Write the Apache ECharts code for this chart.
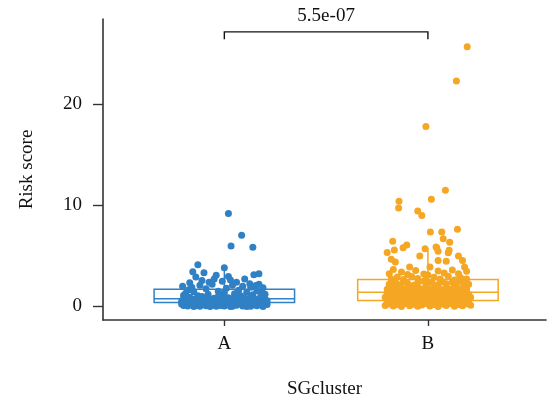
<!DOCTYPE html>
<html>
<head>
<meta charset="utf-8">
<style>html,body{margin:0;padding:0;background:#fff}#c{width:548px;height:402px}</style>
<script src="https://cdn.jsdelivr.net/npm/echarts@6/dist/echarts.min.js"></script>
</head>
<body>
<div id="c"></div>
<script>
// ---- data ----
const categories = ['A', 'B'];
const yTicks = [0, 10, 20];
const xTicks = [1, 2];
// [lower whisker, Q1, median, Q3, upper whisker]
const boxA = [0, 0.38, 0.76, 1.71, 3.6];
const boxB = [0, 0.59, 1.39, 2.67, 5.74];
const pValueText = '5.5e-07';
const bracketLow = 26.4;
const bracketHigh = 27.13;
// jittered points: [jitter offset from category centre, risk score]
const pointsA = [
  [0.02,9.18],[0.085,7.03],[0.033,5.97],[0.14,5.85],[-0.13,4.13],[0.0,3.83],[-0.155,3.43],[-0.1,3.34],[0.17,3.24],[0.145,3.14],
  [-0.14,2.9],[-0.11,2.57],[-0.04,3.07],[0.02,2.97],[-0.075,2.4],[0.06,2.4],[0.125,2.25],[0.155,2.08],[0.19,1.85],[-0.175,1.65],[-0.205,2.0],
  [-0.19,1.3],[-0.16,1.9],[-0.12,2.1],[-0.09,1.75],[-0.06,2.2],[-0.03,1.5],[-0.01,2.5],[0.01,1.8],[0.04,2.1],[0.07,1.6],
  [0.09,2.0],[0.11,1.4],[0.13,1.9],[0.16,1.55],[0.18,1.3],[0.2,1.2],[-0.2,1.1],[-0.15,1.45],[-0.08,1.2],[-0.05,2.7],
  [0.03,2.6],[0.05,1.25],[0.1,2.7],[-0.02,1.1],[0.14,1.15],[-0.13,1.05],[0.08,1.05],[-0.17,2.35],[0.17,2.2],[0.0,1.35],
  [-0.21,0.5],[-0.2,0.1],[-0.2,0.8],[-0.19,0.3],[-0.18,0.6],[-0.18,0.05],[-0.17,0.9],[-0.16,0.2],[-0.16,0.45],[-0.15,0.7],
  [-0.14,0.1],[-0.14,0.35],[-0.13,0.85],[-0.12,0.02],[-0.12,0.55],[-0.11,0.25],[-0.1,0.75],[-0.1,0.4],[-0.09,0.08],[-0.08,0.95],
  [-0.08,0.3],[-0.07,0.6],[-0.06,0.15],[-0.06,0.45],[-0.05,0.8],[-0.04,0.03],[-0.04,0.5],[-0.03,0.28],[-0.02,0.7],[-0.02,0.1],
  [-0.01,0.9],[0,0.4],[0,0.05],[0.01,0.65],[0.02,0.2],[0.02,0.85],[0.03,0.35],[0.04,0.55],[0.04,0.02],[0.05,0.75],
  [0.06,0.12],[0.06,0.42],[0.07,0.9],[0.08,0.3],[0.08,0.62],[0.09,0.05],[0.1,0.5],[0.1,0.8],[0.11,0.18],[0.12,0.68],
  [0.12,0.38],[0.13,0.02],[0.14,0.88],[0.14,0.48],[0.15,0.22],[0.16,0.6],[0.16,0.08],[0.17,0.78],[0.18,0.35],[0.18,0.55],
  [0.19,0.12],[0.2,0.7],[0.2,0.4],[0.21,0.2],[-0.19,0.95],[-0.11,0.98],[-0.03,0.97],[0.05,0.99],[0.13,0.97],[-0.15,0.0],
  [-0.07,0.0],[0.03,0.0],[0.11,0.0],[0.19,0.0],[-0.21,0.25],[0.21,0.55]
];
const pointsB = [
  [-0.21,0.1],[-0.19,0.25],[-0.17,0.05],[-0.15,0.2],[-0.13,0.0],[-0.11,0.3],[-0.09,0.08],[-0.07,0.22],[-0.05,0.02],[-0.03,0.15],
  [-0.01,0.28],[0.01,0.05],[0.03,0.2],[0.05,0.0],[0.07,0.25],[0.09,0.1],[0.11,0.3],[0.13,0.03],[0.15,0.18],[0.17,0.07],[0.19,0.27],[0.21,0.12],
  [-0.2,0.5],[-0.18,0.65],[-0.16,0.42],[-0.14,0.7],[-0.12,0.48],[-0.1,0.6],[-0.08,0.4],[-0.06,0.68],[-0.04,0.52],[-0.02,0.44],
  [0,0.62],[0.02,0.47],[0.04,0.7],[0.06,0.5],[0.08,0.41],[0.1,0.66],[0.12,0.55],[0.14,0.43],[0.16,0.69],[0.18,0.52],[0.2,0.6],
  [-0.21,0.9],[-0.19,1.05],[-0.17,0.82],[-0.15,1.0],[-0.13,0.88],[-0.11,1.1],[-0.09,0.85],[-0.07,0.98],[-0.05,1.08],[-0.03,0.8],
  [-0.01,0.95],[0.01,1.1],[0.03,0.87],[0.05,1.02],[0.07,0.83],[0.09,0.97],[0.11,1.07],[0.13,0.9],[0.15,1.0],[0.17,0.81],[0.19,1.06],[0.21,0.92],
  [-0.2,1.3],[-0.18,1.45],[-0.16,1.22],[-0.14,1.38],[-0.12,1.5],[-0.1,1.25],[-0.08,1.42],[-0.06,1.3],[-0.04,1.2],[-0.02,1.48],
  [0,1.35],[0.02,1.24],[0.04,1.44],[0.06,1.3],[0.08,1.5],[0.1,1.22],[0.12,1.4],[0.14,1.28],[0.16,1.46],[0.18,1.33],[0.2,1.2],
  [-0.2,1.7],[-0.17,1.9],[-0.15,1.62],[-0.13,1.85],[-0.11,1.7],[-0.09,2.0],[-0.07,1.65],[-0.05,1.88],[-0.03,1.72],[-0.01,1.95],
  [0.01,1.6],[0.03,1.8],[0.05,1.98],[0.07,1.66],[0.09,1.84],[0.11,1.7],[0.13,1.93],[0.15,1.62],[0.17,1.82],[0.19,1.7],
  [-0.19,2.2],[-0.16,2.4],[-0.14,2.15],[-0.12,2.45],[-0.1,2.3],[-0.07,2.1],[-0.05,2.35],[-0.02,2.5],[0,2.2],[0.02,2.4],
  [0.05,2.15],[0.07,2.45],[0.09,2.25],[0.12,2.38],[0.14,2.12],[0.16,2.48],[0.18,2.3],[0.2,2.18],
  [-0.18,2.7],[-0.15,2.9],[-0.12,2.65],[-0.08,2.95],[-0.05,2.75],[-0.01,2.6],[0.03,2.88],[0.06,2.7],[0.1,2.98],[0.13,2.62],[0.16,2.85],[0.19,2.72],
  [-0.19,3.24],[0.15,3.24],[-0.13,3.4],[0.19,3.47],[-0.06,3.56],[-0.17,3.66],[-0.09,3.89],[0.01,3.89],[0.18,3.89],
  [0.0,3.1],[0.08,3.3],[-0.02,3.2],[0.12,3.6],[-0.1,3.15],[0.05,3.5],
  [-0.18,4.65],[-0.16,4.39],[0.05,4.55],[0.09,4.46],[0.17,4.55],[-0.04,4.98],[0.15,4.98],[0.1,5.3],[0.04,5.87],[0.05,5.45],
  [-0.2,5.32],[-0.165,5.58],[-0.122,5.81],[-0.104,6.07],[-0.173,6.44],[-0.014,5.71],[0.043,5.81],[0.104,5.54],[0.107,6.34],[0.075,6.7],
  [0.145,7.62],[0.068,7.36],[0.012,7.36],[-0.03,8.98],[-0.05,9.44],[0.017,10.59],[-0.144,9.73],[-0.142,10.4],[0.086,11.49],
  [-0.01,17.79],[0.14,22.28],[0.193,25.67]
];

// ---- styles ----
const colA = '#2F80C4';
const colB = '#F5A623';
const axisCol = '#333333';
const FONT = '"Liberation Serif", "DejaVu Serif", serif';

const toXY = (pts, idx) => pts.map(p => [xTicks[idx] + p[0], p[1]]);

const chart = echarts.init(document.getElementById('c'), null, {renderer: 'canvas'});
chart.setOption({
  animation: false,
  backgroundColor: '#ffffff',
  grid: {left: 103, right: 2, top: 19, bottom: 82, containLabel: false, outerBoundsMode: 'none'},
  xAxis: {
    type: 'value', min: 0.404, max: 2.58,
    name: 'SGcluster', nameLocation: 'middle', nameGap: 60,
    nameTextStyle: {fontFamily: FONT, fontSize: 19, color: '#111'},
    axisLine: {show: true, onZero: false, lineStyle: {color: axisCol, width: 1.6}},
    axisTick: {show: true, length: 6, customValues: xTicks, lineStyle: {color: axisCol, width: 1.4}},
    axisLabel: {customValues: xTicks, margin: 15, fontFamily: FONT, fontSize: 19, color: '#111',
      formatter: v => categories[Math.round(v) - 1]},
    splitLine: {show: false}
  },
  yAxis: {
    type: 'value', min: -1.34, max: 28.4,
    name: 'Risk score', nameLocation: 'middle', nameGap: 66, nameRotate: 90,
    nameTextStyle: {fontFamily: FONT, fontSize: 19, color: '#111'},
    axisLine: {show: true, onZero: false, lineStyle: {color: axisCol, width: 1.6}},
    axisTick: {show: true, length: 10, customValues: yTicks, lineStyle: {color: axisCol, width: 1.4}},
    axisLabel: {customValues: yTicks, margin: 21, fontFamily: FONT, fontSize: 19, color: '#111'},
    splitLine: {show: false}
  },
  series: [
    {
      type: 'custom',
      data: [[xTicks[0]].concat(boxA).concat([0]), [xTicks[1]].concat(boxB).concat([1])],
      encode: {x: 0, y: [1, 2, 3, 4, 5]},
      z: 1,
      renderItem: function (params, api) {
        const x = api.value(0);
        const col = api.value(6) === 0 ? colA : colB;
        const half = api.size([0.69, 0])[0] / 2;
        const pLo = api.coord([x, api.value(1)]);
        const pQ1 = api.coord([x, api.value(2)]);
        const pMed = api.coord([x, api.value(3)]);
        const pQ3 = api.coord([x, api.value(4)]);
        const pHi = api.coord([x, api.value(5)]);
        const st = {stroke: col, lineWidth: 1.5, fill: null};
        return {
          type: 'group',
          children: [
            {type: 'line', shape: {x1: pQ3[0], y1: pQ3[1], x2: pHi[0], y2: pHi[1]}, style: st},
            {type: 'line', shape: {x1: pQ1[0], y1: pQ1[1], x2: pLo[0], y2: pLo[1]}, style: st},
            {type: 'rect', shape: {x: pQ3[0] - half, y: pQ3[1], width: half * 2, height: pQ1[1] - pQ3[1]},
              style: {stroke: col, lineWidth: 1.5, fill: '#ffffff'}},
            {type: 'line', shape: {x1: pMed[0] - half, y1: pMed[1], x2: pMed[0] + half, y2: pMed[1]}, style: st}
          ]
        };
      }
    },
    {
      type: 'scatter', data: toXY(pointsA, 0), symbolSize: 7, z: 3,
      itemStyle: {color: colA, opacity: 1}
    },
    {
      type: 'scatter', data: toXY(pointsB, 1), symbolSize: 7, z: 3,
      itemStyle: {color: colB, opacity: 1}
    },
    {
      type: 'custom', clip: false, z: 5,
      data: [[xTicks[0], xTicks[1], bracketLow, bracketHigh]],
      encode: {x: [0, 1], y: [2, 3]},
      renderItem: function (params, api) {
        const a = api.coord([api.value(0), api.value(2)]);
        const b = api.coord([api.value(0), api.value(3)]);
        const c = api.coord([api.value(1), api.value(3)]);
        const d = api.coord([api.value(1), api.value(2)]);
        return {
          type: 'group',
          children: [
            {type: 'polyline', shape: {points: [a, b, c, d]}, style: {stroke: '#111', lineWidth: 1.4, fill: null}},
            {type: 'text', style: {text: pValueText, x: (b[0] + c[0]) / 2, y: b[1] - 6,
              align: 'center', verticalAlign: 'bottom', font: '19px ' + FONT, fill: '#111'}}
          ]
        };
      }
    }
  ]
});
</script>
</body>
</html>
